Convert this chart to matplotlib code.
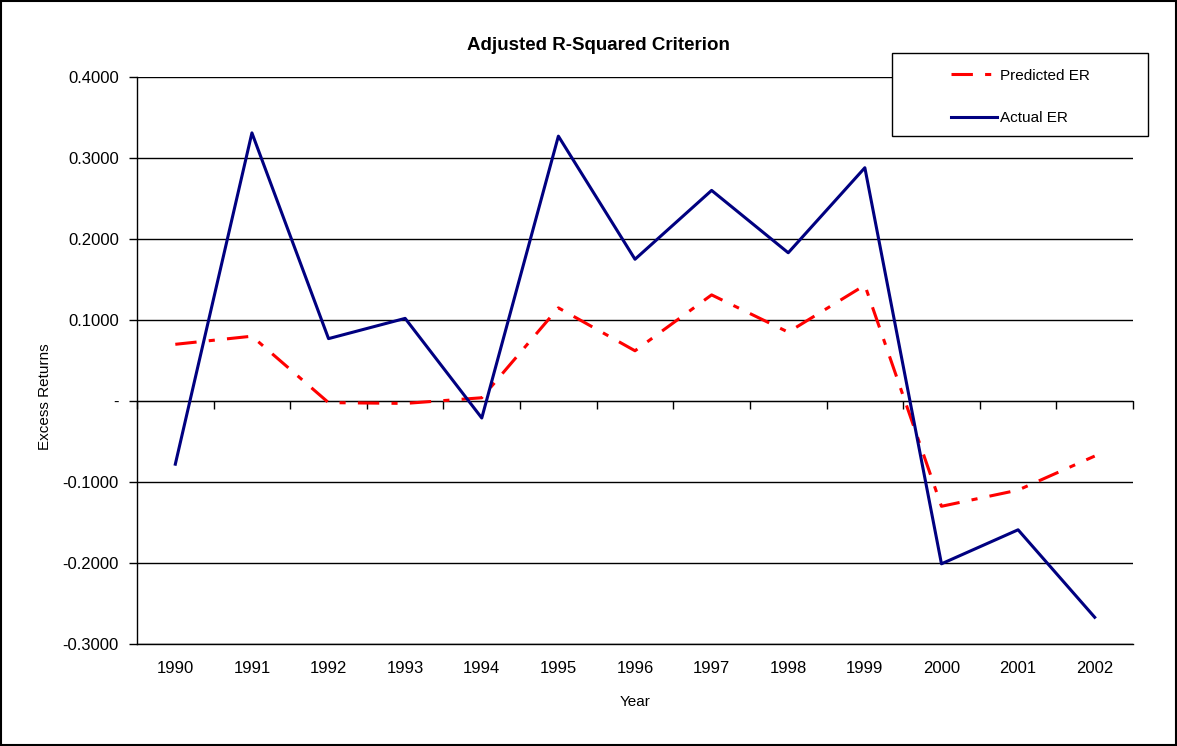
import numpy as np
import matplotlib.pyplot as plt
from matplotlib.patches import Rectangle
from matplotlib.ticker import FuncFormatter

plt.rcParams["font.family"] = ["Liberation Sans", "DejaVu Sans"]

# data
years = ["1990", "1991", "1992", "1993", "1994", "1995", "1996",
         "1997", "1998", "1999", "2000", "2001", "2002"]
predicted_er = [0.070, 0.080, -0.002, -0.003, 0.004, 0.115, 0.062,
                0.131, 0.085, 0.143, -0.130, -0.110, -0.068]
actual_er = [-0.078, 0.331, 0.077, 0.102, -0.021, 0.327, 0.175,
             0.260, 0.183, 0.288, -0.201, -0.159, -0.267]
y_ticks = [-0.3, -0.2, -0.1, 0.0, 0.1, 0.2, 0.3, 0.4]

W, H = 1177, 746
fig = plt.figure(figsize=(W / 100, H / 100), dpi=100)
ax = fig.add_axes([137 / W, 1 - 644 / H, (1133 - 137) / W, (644 - 77) / H])

x = np.arange(len(years))
ax.plot(x, predicted_er, color="#ff0000", lw=2.2, dashes=(7, 4, 2, 4),
        label="Predicted ER", zorder=3)
ax.plot(x, actual_er, color="#000080", lw=2.2, label="Actual ER", zorder=4)

ymin, ymax = y_ticks[0], y_ticks[-1]
ax.set_xlim(-0.5, len(years) - 0.5)
ax.set_ylim(ymin, ymax)

# gridlines
ax.set_yticks(y_ticks)
ax.yaxis.set_major_formatter(FuncFormatter(lambda v, p: "-" if abs(v) < 1e-9 else f"{v:.4f}"))
ax.grid(axis="y", color="black", lw=1.0)
ax.set_axisbelow(True)
ax.tick_params(axis="y", direction="out", length=6, width=1, labelsize=12, pad=7)

# year labels along the bottom, no ticks there
ax.set_xticks(x)
ax.set_xticklabels(years)
ax.tick_params(axis="x", length=0, labelsize=12, pad=12)

for side in ["top", "right"]:
    ax.spines[side].set_visible(False)
ax.spines["left"].set_linewidth(1.0)
ax.spines["bottom"].set_linewidth(1.0)

# category axis crossing at zero, ticks between categories
zero_loc = (0 - ymin) / (ymax - ymin)
sec = ax.secondary_xaxis(zero_loc)
sec.set_xticks(np.arange(len(years) + 1) - 0.5)
sec.set_xticklabels([])
sec.tick_params(axis="x", direction="out", length=6, width=1, bottom=True, top=False,
                labelbottom=False, labeltop=False)
sec.spines["bottom"].set_visible(True)
sec.spines["top"].set_visible(False)
sec.xaxis.set_ticks_position("bottom")

ax.set_xlabel("Year", fontsize=11, labelpad=14)
fig.text(45 / W, 1 - 397 / H, "Excess Returns", rotation=90, fontsize=11,
         ha="center", va="center")
fig.text(598 / W, 1 - 46 / H, "Adjusted R-Squared Criterion", fontsize=13.5,
         fontweight="bold", ha="center", va="center")

# legend box
fig.patches.append(Rectangle((892 / W, 1 - 136 / H), (1148 - 892) / W, (136 - 53) / H,
                             transform=fig.transFigure, facecolor="white",
                             edgecolor="black", lw=1.0, zorder=5))
leg = fig.legend(loc="upper left", bbox_to_anchor=(937 / W, 1 - 55 / H), frameon=False,
                 fontsize=11, handlelength=3.0, handletextpad=0.2, labelspacing=1.85)
leg.set_zorder(6)

# outer border
fig.patches.append(Rectangle((0.0008, 0.0012), 0.9984, 0.9976, transform=fig.transFigure,
                             fill=False, edgecolor="black", lw=1.5))

fig.savefig("out.png", dpi=100)
